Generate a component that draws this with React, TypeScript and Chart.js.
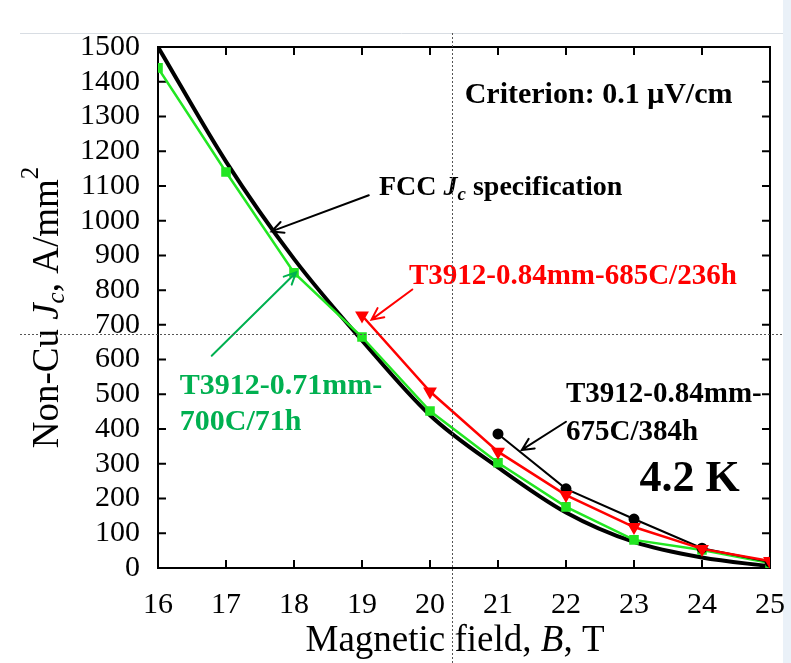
import { useEffect, useRef } from 'react';
import { Chart, registerables } from 'chart.js';

Chart.register(...registerables);

const fieldT = [16, 17, 18, 19, 20, 21, 22, 23, 24, 25];
const fccSpec = [1500, 1170, 890, 655, 440, 290, 160, 75, 30, 5];
const green071 = [1440, 1140, 850, 665, 452, 303, 176, 81, 52, 14];
const red685Fields = [19, 20, 21, 22, 23, 24, 25];
const red685 = [727, 508, 335, 210, 118, 55, 20];
const black675Fields = [21, 22, 23, 24, 25];
const black675 = [386, 228, 141, 57, 17];
const xTickValues = [16, 17, 18, 19, 20, 21, 22, 23, 24, 25];
const yTickValues = [0, 100, 200, 300, 400, 500, 600, 700, 800, 900, 1000, 1100, 1200, 1300, 1400, 1500];

const SERIF = "'Liberation Serif', 'Times New Roman', serif";
const GREEN_TEXT = '#00b050';

type Seg = { t: string; font: string; color?: string; dy?: number };

function drawRich(ctx: CanvasRenderingContext2D, segs: Seg[], x: number, y: number, align: 'left' | 'center' = 'left', color = '#000') {
  ctx.save();
  ctx.textBaseline = 'middle';
  ctx.textAlign = 'left';
  let total = 0;
  for (const s of segs) {
    ctx.font = s.font;
    total += ctx.measureText(s.t).width;
  }
  let cx = align === 'center' ? x - total / 2 : x;
  for (const s of segs) {
    ctx.font = s.font;
    ctx.fillStyle = s.color || color;
    ctx.fillText(s.t, cx, y + (s.dy || 0));
    cx += ctx.measureText(s.t).width;
  }
  ctx.restore();
}

function drawArrow(ctx: CanvasRenderingContext2D, x1: number, y1: number, x2: number, y2: number, color: string) {
  ctx.save();
  ctx.strokeStyle = color;
  ctx.lineWidth = 2;
  ctx.lineCap = 'round';
  ctx.beginPath();
  ctx.moveTo(x1, y1);
  ctx.lineTo(x2, y2);
  const a = Math.atan2(y2 - y1, x2 - x1);
  const h = 13;
  const w = 0.45;
  ctx.moveTo(x2 - h * Math.cos(a - w), y2 - h * Math.sin(a - w));
  ctx.lineTo(x2, y2);
  ctx.lineTo(x2 - h * Math.cos(a + w), y2 - h * Math.sin(a + w));
  ctx.stroke();
  ctx.restore();
}

const framePlugin = {
  id: 'frameTicks',
  beforeDraw(chart: any) {
    // light page edge visible in the reference screenshot
    const { ctx, width, height } = chart;
    ctx.save();
    ctx.fillStyle = '#eaf1f8';
    ctx.fillRect(width - 8, 0, 8, height);
    ctx.restore();
  },
  beforeDatasetsDraw(chart: any) {
    const { ctx, chartArea: ca, scales } = chart;
    const xs = scales.x;
    const ys = scales.y;
    ctx.save();
    ctx.strokeStyle = '#000';
    ctx.lineWidth = 2;
    ctx.strokeRect(ca.left, ca.top, ca.right - ca.left, ca.bottom - ca.top);
    ctx.beginPath();
    const tl = 8;
    for (const v of xTickValues) {
      const px = xs.getPixelForValue(v);
      ctx.moveTo(px, ca.bottom);
      ctx.lineTo(px, ca.bottom - tl);
      ctx.moveTo(px, ca.top);
      ctx.lineTo(px, ca.top + tl);
    }
    for (const v of yTickValues) {
      const py = ys.getPixelForValue(v);
      ctx.moveTo(ca.left, py);
      ctx.lineTo(ca.left + tl, py);
      ctx.moveTo(ca.right, py);
      ctx.lineTo(ca.right - tl, py);
    }
    ctx.stroke();
    ctx.restore();
  },
  afterDatasetsDraw(chart: any) {
    const { ctx, chartArea: ca, scales } = chart;
    const X = (v: number) => scales.x.getPixelForValue(v);
    const Y = (v: number) => scales.y.getPixelForValue(v);
    const b = (s: number) => `bold ${s}px ${SERIF}`;
    const bi = (s: number) => `italic bold ${s}px ${SERIF}`;
    const r = (s: number) => `${s}px ${SERIF}`;
    const it = (s: number) => `italic ${s}px ${SERIF}`;

    // annotations
    drawRich(ctx, [{ t: 'Criterion: 0.1 \u03bcV/cm', font: b(30) }], X(20.51), Y(1361));
    drawRich(ctx, [
      { t: 'FCC ', font: b(28) },
      { t: 'J', font: bi(28) },
      { t: 'c', font: bi(19), dy: 8 },
      { t: ' specification', font: b(28) },
    ], X(19.25), Y(1096));
    drawArrow(ctx, X(19.1), Y(1073), X(17.67), Y(969), '#000');

    drawRich(ctx, [{ t: 'T3912-0.84mm-685C/236h', font: b(29), color: '#ff0000' }], X(19.69), Y(839));
    drawArrow(ctx, X(19.74), Y(802), X(19.14), Y(715), '#ff0000');

    drawRich(ctx, [{ t: 'T3912-0.71mm-', font: b(30), color: GREEN_TEXT }], X(16.32), Y(522));
    drawRich(ctx, [{ t: '700C/71h', font: b(30), color: GREEN_TEXT }], X(16.32), Y(421));
    drawArrow(ctx, X(16.79), Y(611), X(18.03), Y(851), GREEN_TEXT);

    drawRich(ctx, [{ t: 'T3912-0.84mm-', font: b(29) }], X(22.0), Y(499));
    drawRich(ctx, [{ t: '675C/384h', font: b(29) }], X(22.0), Y(389));
    drawArrow(ctx, X(22.0), Y(421), X(21.35), Y(340), '#000');

    drawRich(ctx, [{ t: '4.2 K', font: b(44) }], X(23.08), Y(254));

    // axis titles
    drawRich(ctx, [
      { t: 'Magnetic field, ', font: r(37) },
      { t: 'B', font: it(37) },
      { t: ', T', font: r(37) },
    ], (ca.left + ca.right) / 2 - 9, ca.bottom + 73, 'center');

    ctx.save();
    ctx.translate(ca.left - 110, (ca.top + ca.bottom) / 2);
    ctx.rotate(-Math.PI / 2);
    drawRich(ctx, [
      { t: 'Non-Cu ', font: r(37) },
      { t: 'J', font: it(37) },
      { t: 'c', font: it(25), dy: 9 },
      { t: ', A/mm', font: r(37) },
      { t: '2', font: r(25), dy: -17 },
    ], 0, 0, 'center');
    ctx.restore();
  },
  afterDraw(chart: any) {
    // screenshot guides visible in the reference
    const { ctx, width, height } = chart;
    ctx.save();
    ctx.strokeStyle = '#d8dde3';
    ctx.lineWidth = 1;
    ctx.beginPath();
    ctx.moveTo(20, 33.5);
    ctx.lineTo(width - 8, 33.5);
    ctx.stroke();
    ctx.strokeStyle = '#555';
    ctx.setLineDash([2, 2]);
    ctx.beginPath();
    ctx.moveTo(452.5, 33);
    ctx.lineTo(452.5, height);
    ctx.moveTo(20, 334.5);
    ctx.lineTo(width - 8, 334.5);
    ctx.stroke();
    ctx.restore();
  },
};

export default function App() {
  const ref = useRef<HTMLCanvasElement | null>(null);
  useEffect(() => {
    document.body.style.margin = '0';
    if (!ref.current) return;
    const pts = (xs: number[], ys: number[]) => xs.map((x, i) => ({ x, y: ys[i] }));
    const chart = new Chart(ref.current, {
      type: 'line',
      data: {
        datasets: [
          {
            label: 'T3912-0.84mm-685C/236h',
            data: pts(red685Fields, red685),
            borderColor: '#ff0000',
            backgroundColor: '#ff0000',
            borderWidth: 2.5,
            pointStyle: 'triangle',
            rotation: 180,
            pointRadius: 5.5,
            order: 0,
          },
          {
            label: 'T3912-0.84mm-675C/384h',
            data: pts(black675Fields, black675),
            borderColor: '#000',
            backgroundColor: '#000',
            borderWidth: 2,
            pointStyle: 'circle',
            pointRadius: 4.5,
            order: 1,
          },
          {
            label: 'T3912-0.71mm-700C/71h',
            data: pts(fieldT, green071),
            borderColor: '#22e622',
            backgroundColor: '#22e622',
            borderWidth: 2.5,
            pointStyle: 'rect',
            pointRadius: 5,
            order: 2,
          },
          {
            label: 'FCC Jc specification',
            data: pts(fieldT, fccSpec),
            borderColor: '#000',
            borderWidth: 4,
            pointRadius: 0,
            cubicInterpolationMode: 'monotone',
            order: 3,
          },
        ] as any,
      },
      options: {
        animation: false,
        responsive: true,
        maintainAspectRatio: false,
        layout: { padding: { top: 47, right: 21, left: 0, bottom: 0 } },
        plugins: { legend: { display: false }, tooltip: { enabled: false } },
        scales: {
          x: {
            type: 'linear',
            min: 16,
            max: 25,
            afterFit: (s: any) => { s.height = 95; s.paddingRight = 0; s.paddingLeft = 0; },
            afterBuildTicks: (s: any) => { s.ticks = xTickValues.map((v) => ({ value: v })); },
            grid: { display: false, drawTicks: false },
            border: { display: false },
            ticks: { color: '#000', font: { family: SERIF, size: 30 }, padding: 19, maxRotation: 0, autoSkip: false, callback: (v: any) => String(v) },
          },
          y: {
            type: 'linear',
            min: 0,
            max: 1500,
            afterFit: (s: any) => { s.width = 158; s.paddingTop = 0; s.paddingBottom = 0; },
            afterBuildTicks: (s: any) => { s.ticks = yTickValues.map((v) => ({ value: v })); },
            grid: { display: false, drawTicks: false },
            border: { display: false },
            ticks: { color: '#000', font: { family: SERIF, size: 30 }, padding: 18, autoSkip: false, callback: (v: any) => String(v) },
          },
        },
      },
      plugins: [framePlugin],
    });
    return () => chart.destroy();
  }, []);
  return (
    <div style={{ position: 'relative', width: '791px', height: '663px' }}>
      <canvas ref={ref} />
    </div>
  );
}
